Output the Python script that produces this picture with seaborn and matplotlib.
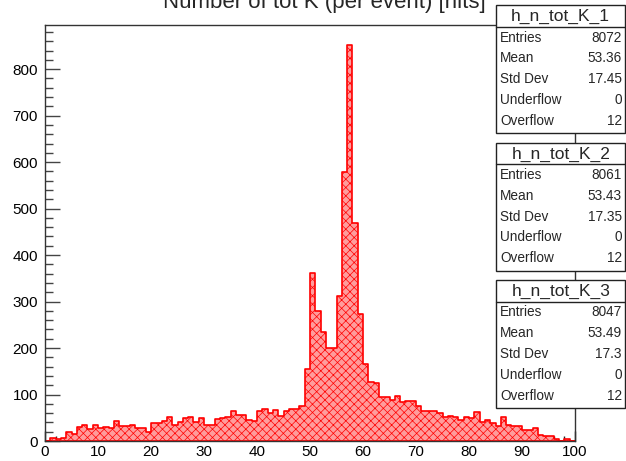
import numpy as np
import pandas as pd
import matplotlib
matplotlib.use('Agg')
import matplotlib.pyplot as plt
import seaborn as sns
from matplotlib.patches import Rectangle
from matplotlib.lines import Line2D
from matplotlib.ticker import MultipleLocator

# bin contents (1 unit bins from 0 to 100)
counts = [1, 7, 4, 7, 19, 16, 31, 35, 25, 35,
          28, 31, 28, 42, 33, 33, 35, 28, 28, 19,
          38, 38, 42, 52, 35, 40, 49, 52, 41, 49,
          35, 35, 48, 49, 51, 64, 56, 56, 46, 44,
          64, 68, 61, 66, 54, 64, 68, 68, 76, 154,
          361, 280, 234, 201, 201, 313, 579, 852, 470, 273,
          165, 126, 124, 95, 95, 89, 96, 83, 85, 85,
          76, 64, 64, 64, 60, 52, 54, 52, 46, 52,
          50, 62, 41, 45, 38, 32, 52, 35, 32, 32,
          24, 24, 29, 12, 11, 11, 5, 1, 5, 1]
bin_edges = list(range(0, 101))

title = "Number of tot K (per event) [hits]"
hist_names = ["h_n_tot_K_1", "h_n_tot_K_2", "h_n_tot_K_3"]
stat_labels = ["Entries", "Mean", "Std Dev", "Underflow", "Overflow"]
stat_values = [
    ["8072", "53.36", "17.45", "0", "12"],
    ["8061", "53.43", "17.35", "0", "12"],
    ["8047", "53.49", "17.3", "0", "12"],
]

W, H = 626, 461

sns.set_theme(style="white")
plt.rcParams['font.family'] = ['Liberation Sans', 'DejaVu Sans']
plt.rcParams['hatch.linewidth'] = 0.5

fig = plt.figure(figsize=(W / 100, H / 100), dpi=100)
ax = fig.add_axes([45 / W, 1 - 441 / H, 530 / W, 416 / H])

df = pd.DataFrame({"x": np.array(bin_edges[:-1]) + 0.5, "w": counts})
sns.histplot(data=df, x="x", weights="w", bins=bin_edges, element="step",
             fill=True, color="red", linewidth=1.2, ax=ax)
for coll in ax.collections:
    coll.set_facecolor("#ff9c9c")
    coll.set_edgecolor("red")
    coll.set_alpha(1)
    coll.set_hatch("xxxx")

ax.set_xlim(0, 100)
ax.set_ylim(0, 895)
ax.set_xlabel("")
ax.set_ylabel("")

ax.xaxis.set_major_locator(MultipleLocator(10))
ax.xaxis.set_minor_locator(MultipleLocator(2))
ax.yaxis.set_major_locator(MultipleLocator(100))
ax.yaxis.set_minor_locator(MultipleLocator(20))
ax.tick_params(axis="x", which="major", direction="in", length=7.5, width=1,
               color="#222222", labelsize=11, pad=3, bottom=True, top=False)
ax.tick_params(axis="x", which="minor", direction="in", length=3.8, width=1,
               color="#222222", bottom=True, top=False)
ax.tick_params(axis="y", which="major", direction="in", length=11, width=1,
               color="#444444", labelsize=11, pad=5, left=True, right=False)
ax.tick_params(axis="y", which="minor", direction="in", length=6, width=1,
               color="#444444", left=True, right=False)
for sp in ax.spines.values():
    sp.set_color("#333333")
    sp.set_linewidth(1)
    sp.set_visible(True)
for lab in ax.get_xticklabels() + ax.get_yticklabels():
    lab.set_color("black")

# title, mostly cut off by the top of the canvas as in the original
fig.text(324 / W, 1 - 8 / H, title, ha="center", va="baseline", fontsize=16)

# stat boxes
def px(x, y):
    return x / W, 1 - y / H

for i, name in enumerate(hist_names):
    top = 5 + i * 137.5
    bot = top + 128
    left, right = 496.5, 625
    x0, y0 = px(left, bot)
    fig.add_artist(Rectangle((x0, y0), (right - left) / W, (bot - top) / H,
                             transform=fig.transFigure, facecolor="white",
                             edgecolor="#222222", linewidth=1, zorder=5))
    sx0, sy = px(left, top + 22)
    sx1, _ = px(right, top + 22)
    fig.add_artist(Line2D([sx0, sx1], [sy, sy], transform=fig.transFigure,
                          color="#222222", linewidth=1, zorder=6))
    tx, ty = px((left + right) / 2, top + 11.5)
    fig.text(tx, ty, name, ha="center", va="center", fontsize=12.5, zorder=7)
    for j, (lab, val) in enumerate(zip(stat_labels, stat_values[i])):
        rx, ry = px(500, top + 32.5 + j * 20.8)
        fig.text(rx, ry, lab, ha="left", va="center", fontsize=9.8, zorder=7)
        vx, _ = px(622, 0)
        fig.text(vx, ry, val, ha="right", va="center", fontsize=9.8, zorder=7)

fig.savefig("out.png", dpi=100)
